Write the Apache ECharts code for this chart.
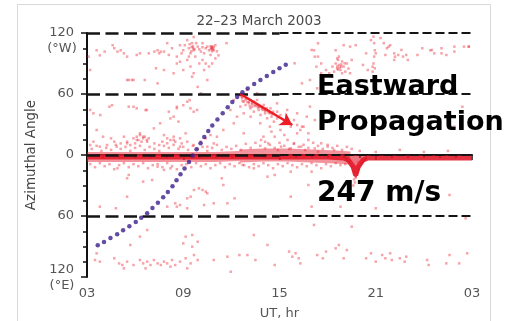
<!DOCTYPE html>
<html><head><meta charset="utf-8">
<script src="https://cdn.jsdelivr.net/npm/echarts@6/dist/echarts.min.js"></script>
<style>html,body{margin:0;padding:0;background:#fff}#c{width:508px;height:321px}</style>
</head><body><div id="c"></div>
<script>
// ---- data ----
const titleText = '22\u201323 March 2003';
const xTicks = [3, 9, 15, 21, 27];          // UT hours (27 = 03 next day)
const yTicks = [-120, -60, 0, 60, 120];     // azimuth, + = West, - = East
const refLevels = [120, 60, 0, -60];        // dashed reference lines

// dense echo band near 0 deg (hour, deg)
const bandHours = [3,4,5,6,7,8,9,10,11,12,13,14,15,16,17,18,19,19.3,19.6,19.75,19.9,20.2,20.5,21,22,23,24,25,26,27];
const bandDeg   = [-2,-2,-2,-2,-2,-2,-2,-2,-2,-2,-2,-2,-2,-2,-2,-2,-3,-5,-12,-20,-12,-5,-3,-3,-3,-3,-3,-3,-3,-3];
const fuzzLeftHours = [3,5,7,9,11,12.5];
const fuzzLeftDeg   = [-2,-2,-2,-2,-2,-1];
const fuzzMidHours = [12.5,14,15.5,17,18.5,19.4];
const fuzzMidDeg   = [-1,0,0,-1,-2,-3];
const dipHours = [19.1,19.45,19.75,20.05,20.45];
const dipDeg   = [-3,-9,-22,-9,-3];

// purple dotted track (hour, deg)
const trackHours = [3.67,4.06,4.46,4.88,5.25,5.64,6.04,6.38,6.75,7.08,7.42,7.75,8.04,8.33,8.58,8.83,9.08,9.36,9.59,9.83,10.08,10.31,10.56,10.81,11.13,11.46,11.77,12.06,12.36,12.69,13.02,13.42,13.81,14.21,14.61,15.0,15.39];
const trackDeg   = [-88.8,-85.6,-81.6,-78.0,-74.1,-70.1,-65.9,-61.7,-57.3,-52.1,-46.9,-41.6,-36.4,-30.8,-24.9,-19.0,-13.3,-6.9,-0.5,5.6,11.6,17.7,23.6,29.0,34.9,41.0,46.9,52.1,57.0,61.7,65.4,69.8,73.8,77.7,81.6,85.3,88.8];

// arrow of eastward propagation
const arrowStart = [12.56, 60];
const arrowEnd   = [15.8, 29.5];

// scattered echoes [hour, deg]
const echoTop = [
[3.1,96.8],[3.2,83.6],[3.6,103],[3.8,98],[4.1,101.7],[4.6,108],[4.7,105],[4.9,101.7],[5.1,103],[5.3,100],[5.5,96.8],[5.6,73.8],[5.8,73.8],
[6.1,98.4],[6.3,100],[6.6,73.8],[6.85,100],[7.2,101.7],[7.3,85.3],[7.4,103],[7.5,100],[7.6,101.7],[7.8,101.7],[8.0,110],[8.1,98.4],[8.3,105],
[8.4,80.4],[8.6,96.8],[8.8,108],[8.9,100],[9.0,103],[9.1,108],[9.25,113],[9.35,105],[9.45,100],[9.55,110],[9.65,116],[9.65,103],[9.75,96.8],
[9.9,106.6],[10.0,90],[10.1,101.7],[10.2,110],[10.3,100],[10.4,105],[10.5,106.6],[10.6,103],[10.7,98.4],[10.8,105],[10.9,103],[11.0,108],
[9.25,93.5],[9.45,87],[9.65,80.4],[9.55,77],[9.9,67],[10.1,60.7],[10.3,83.6],[10.5,73.8],[9.0,83.6],[8.8,91.8],[8.6,90],[9.35,96.8],[10.2,93.5],
[10.4,90],[10.6,87],[10.8,90],[7.4,70.5],[7.8,83.6],[10.75,106],[10.85,104],[10.7,107],[10.9,106],[10.8,102],[9.6,107],[9.7,104],[9.5,102],
[9.8,110],[9.4,109],[10.0,104],[10.2,106],[11.1,102],[11.2,98],[11.0,95],[10.78,105],[10.82,107],[10.72,104],[9.62,105],[9.52,106],
[11.7,110],[13.9,119.7],[17.15,103],[17.4,96.8],[17.6,90],[17.9,83.6],[18.1,80.4],[18.3,77],[18.6,87],[18.7,96.8],[18.5,103],[16.9,73.8],[17.35,65.6],
[17,103.3],[17.2,96.7],[17.3,86.9],[17.4,109.9],[18.65,93.5],[18.85,86.9],[19.06,90.2],[20.7,113],[20.8,86.9],[21.8,106.6],[22.2,96.7],[22.6,103.3],
[24.5,103.3],[25.1,100],[25.9,106.6],[26.8,106.6],[15.94,90.2],[16.4,70.5],[17.6,80.4],[18.0,60.7],
[19.0,108],[19.4,106.6],[19.75,108],[21.3,115],[21.5,110],[21.7,105],[21.9,108],[21.6,98.4],[22.15,100],[22.4,98.4],[22.7,96.8],[22.9,98.4],
[23.0,93.5],[23.6,98.4],[23.9,105],[24.4,103],[24.65,100],[25.1,105],[25.4,98.4],[25.9,101.7],[26.5,106.6],[26.8,106.6],[22.15,93.5],[20.4,100],
[20.2,88.6],[20.5,83.6],[18.5,90],[18.6,85],[18.7,88.6],[18.8,83.6],[18.9,92],[19.0,87],[19.1,82],[19.2,90],[19.3,85],[18.6,95],[18.9,80.4],
[18.4,82],[19.4,80.4],[19.5,93.5],[18.3,87],[18.75,86],[18.85,89],[18.65,84],[20.86,116.4],[20.9,110],[20.94,103],[20.9,96.8],[20.86,90],
[20.94,85.3],[20.8,82],[21.0,100]
];
const echoMid = [
[12.46,59],[12.67,57.4],[12.77,52.5],[12.98,55.8],[13.1,50.8],[13.2,54],[13.3,47.6],[13.4,52.5],[13.6,49],[13.7,44.3],[13.8,47.6],[14.0,44.3],
[14.1,41],[14.2,46],[14.4,41],[14.5,37.7],[14.6,42.6],[14.85,36],[15.06,39.4],[15.27,34.4],[15.48,31.2],[15.7,27.9],[15.9,34.4],[16.1,29.5],
[16.3,24.6],[16.5,27.9],[12.56,47.6],[12.77,41],[12.35,37.7],[12.15,31.2],[13.2,37.7],[13.8,31.2],[14.4,27.9],[15.06,24.6],[11.94,44.3],
[12.15,54],[12.98,64],[13.6,60.7],[14.85,50.8],[15.48,44.3],[16.1,41],[16.7,37.7],[16.9,47.6],[11.5,24.6],[11.1,18],[12.77,21.3],[14.0,18],
[12.67,55.8],[12.88,54.1],[13.09,52.5],[13.29,50.2],[13.5,48.2],[13.71,46.9],[13.92,44.9],[14.13,43.3],[14.34,41.7],[12.88,49.2],[13.19,45.9],
[13.4,42.6],[13.82,39.4],[14.23,36.1],[14.65,32.8],[13.6,54.1],[14.02,49.2],[14.44,45.9],[14.86,42.6],[12.6,58],[12.9,56],[13.0,52],[13.3,51],
[13.45,49],[13.65,47],[13.9,46],[14.1,44],[14.3,43],[14.55,40],[12.7,53],[13.15,48],
[4.56,49],[5.6,47.5],[6.1,45.9],[6.65,44.2],[3.83,39.3],[7.17,26.2],[8.1,42.6],[8.6,45.9],[9.0,49],[9.25,52.4],[9.45,45.9],[9.65,42.6],[8.2,36],
[8.7,32.8],[7.8,19.6],[8.0,16.4],[8.2,14.7],[8.4,18],[8.5,13.1],[8.8,16.4],[8.9,11.4],[9.15,21.3],[9.25,13.1],[5.9,16.4],[6.1,18],[6.2,14.7],
[6.3,19.6],[6.4,13.1],[6.5,16.4],[6.6,18],[6.75,13.1],[6.85,16.4],[6.0,11.4],[5.7,9.8],[5.5,13.1],[5.1,11.4],[4.7,13.1],[4.5,16.4],[4.25,9.8],
[3.6,24.6],[3.4,13.1],[3.2,9.8],[4.0,18],[5.3,18],[7.2,11.4],[7.5,9.8],[7.7,13.1],[9.65,9.8],[10.1,13.1],[10.4,16.4],[10.7,19.6],[10.5,8.2],
[10.9,11.4],[5.9,47.5],[6.73,44.3],[8.6,47.5],[9.4,54],[9.86,44.3],[8.4,37.7],[7.56,31.2],[6.3,21.3],[6.5,18],[6.73,14.8],[6.1,14.8],[5.5,11.5],
[4.85,8.2],[3.8,8.2],[8.0,11.5],[8.4,14.8],[8.8,8.2],[3.2,44.3],[5.5,73.8],[5.9,73.8],[3.4,41],[4.4,47.5],[16.4,27.9],[16.8,21.3],[26.4,47.5],
[25.9,27.9],[23.9,27.9],[17.2,34.4],[13.85,14.8],[14.3,11.5],[14.7,18],[15.1,8.2],[15.5,14.8],[15.9,11.5],[16.35,8.2],[16.8,14.8],[17.2,6.5],
[17.6,11.5],[18.0,8.2],[18.4,4.9],[14.1,6.5],[14.9,4.9],[15.7,6.5],[16.6,4.9],[17.4,3.3],[14.5,23],[15.3,19.7],[16.1,21.3]
];
const echoBand = [
[3.3,6],[3.6,9],[3.9,4],[4.2,7],[4.5,5],[4.8,10],[5.1,6],[5.4,8],[5.7,4],[6.0,7],[6.3,9],[6.6,5],[6.9,8],[7.2,6],[7.5,4],[7.8,9],[8.1,7],[8.4,10],
[8.7,6],[9.0,8],[9.3,5],[9.6,9],[9.9,6],[10.2,8],[10.5,4],[10.8,7],[11.1,10],[11.4,5],[11.7,8],[12.0,6],[12.3,9],[12.6,5],[12.9,11],[13.2,7],
[13.5,12],[13.8,9],[14.1,13],[14.4,10],[14.7,7],[15.0,12],[15.3,9],[15.6,6],[15.9,11],[16.2,8],[16.5,10],[16.8,7],[17.1,12],[17.4,9],[17.7,6],
[18.0,10],[18.3,7],[18.6,9],[18.9,5],[19.2,8],[19.5,6],[20.0,4],[21.0,3],[22.5,5],[24.0,3],[25.5,4],
[3.2,-9],[3.5,-12],[3.8,-8],[4.1,-11],[4.4,-9],[4.7,-14],[5.0,-10],[5.3,-8],[5.6,-12],[5.9,-9],[6.2,-11],[6.5,-8],[6.8,-13],[7.1,-10],[7.4,-9],
[7.7,-12],[8.0,-8],[8.3,-11],[8.6,-14],[8.9,-10],[9.2,-9],[9.5,-12],[9.8,-8],[10.1,-11],[10.4,-9],[10.7,-13],[11.0,-10],[11.3,-8],[11.6,-12],
[11.9,-9],[12.2,-11],[12.5,-8],[12.8,-10],[13.1,-12],[13.4,-9],[13.7,-11],[14.0,-8],[14.3,-10],[14.6,-13],[14.9,-9],[15.2,-11],[15.5,-8],
[15.8,-10],[16.1,-12],[16.4,-9],[16.7,-11],[17.0,-8],[17.3,-10],[17.6,-13],[17.9,-9],[18.2,-11],[18.5,-8],[18.8,-10],[19.1,-9],
[19.3,-5],[19.4,-8],[19.5,-10],[19.55,-13],[19.6,-15],[19.65,-18],[19.7,-20],[19.75,-22],[19.8,-19],[19.85,-16],[19.9,-13],[19.95,-10],[20.0,-8],
[20.1,-6],[19.6,-9],[19.7,-12],[19.8,-11],[19.5,-7],[19.9,-7],[19.75,-15],[19.65,-24],[19.7,-27],[19.6,-30]
];
const echoLow = [
[4.9,-13.1],[5.5,-22.9],[5.6,-19.6],[7.4,-11.4],[7.8,-14.7],[8.2,-13.1],[5.5,-41],[6.5,-26.2],[7.06,-24.6],[9.67,-34.4],[9.98,-32.8],[10.2,-34.4],
[10.4,-36],[10.5,-37.7],[9.25,-42.6],[9.46,-41],[8.5,-47.5],[8.8,-49.2],[8.0,-50.8],[8.6,-50.8],[9.25,-52.4],[10.3,-49.2],[10.9,-47.5],[11.4,-22.9],
[11.5,-29.5],[11.75,-47.5],[12.2,-42.6],[14.25,-21.3],[14.7,-19.6],[13.4,-13.1],[12.7,-9.8],[3.8,-50.8],[4.8,-52.4],[6.75,-73.8],[6.3,-80.3],
[5.7,-88.5],[9.15,-80.3],[9.56,-78.7],[9.0,-86.9],[9.56,-90.2],[3.6,-96.7],[3.5,-103.3],[3.8,-104.9],[9.9,-85.3],[13.4,-78.7],[12.5,-98.4],
[13.0,-98.4],[11.75,-100],[10.9,-103.3],[11.96,-114.8],[13.5,-103.3],[14.25,-88.5],[14.7,-108.2],
[4.7,-101.6],[5.0,-106.6],[5.2,-108.2],[5.5,-104.9],[5.9,-108.2],[6.3,-103.3],[6.5,-106.6],[6.75,-104.9],[6.96,-108.2],[7.17,-103.3],[7.4,-106.6],
[7.6,-108.2],[7.8,-104.9],[8.0,-106.6],[8.3,-103.3],[8.5,-108.2],[8.8,-104.9],[9.15,-101.6],[9.46,-106.6],[9.67,-98.4],[9.9,-103.3],[9.25,-111.5],
[6.65,-111.5],[5.3,-111.5],[8.2,-109.8],
[15.7,-41],[17.15,-68.8],[17.0,-50.8],[21.0,-52.4],[19.5,-70.5],[25.6,-39.3],[26.6,-62.3],[15.6,-95],[15.8,-100],[16.0,-96.7],[16.3,-106.6],
[16.2,-101.6],[17.35,-98.4],[17.7,-101.6],[17.9,-95],[18.5,-91.8],[18.7,-88.5],[19.2,-93.5],[19.0,-101.6],[20.4,-101.6],[20.7,-96.7],[21.0,-104.9],
[21.4,-98.4],[21.6,-101.6],[21.9,-96.7],[22.0,-103.3],[22.5,-101.6],[22.8,-104.9],[22.9,-100],[24.2,-103.3],[24.3,-108.2],[25.4,-106.6],
[25.6,-98.4],[26.2,-106.6],[26.7,-96.7],[18.8,-50.8],[17.0,-16.4],[15.7,-16.4],[16.8,-29.5],[19.75,-19.6]
];

const labelW = '(\u00b0W)';
const labelE = '(\u00b0E)';

// ---- chart ----
const chart = echarts.init(document.getElementById('c'), null, {renderer: 'canvas'});
const pad2 = v => { const h = ((v % 24) + 24) % 24; return (h < 10 ? '0' : '') + h; };
const allEchoes = echoTop.concat(echoMid, echoBand, echoLow);
const dashLines = [];
refLevels.forEach(l => {
  dashLines.push([{coord: [xTicks[0], l], lineStyle: {type: [13, 5.5], width: 2.6, color: '#151515'}}, {coord: [xTicks[2], l]}]);
  dashLines.push([{coord: [xTicks[2], l], lineStyle: {type: [9, 4], width: 2.2, color: '#151515'}}, {coord: [xTicks[4], l]}]);
});
const font = 'DejaVu Sans';
const pair = (hs, ds) => hs.map((h, i) => [h, ds[i]]);

chart.setOption({
  animation: false,
  backgroundColor: '#fff',
  title: {text: titleText, left: 254, top: 9, textAlign: 'center',
    textStyle: {fontFamily: font, fontSize: 13.5, fontWeight: 'normal', color: '#4a4a4a'}},
  grid: {left: 87, right: 36, top: 33, bottom: 44, containLabel: false, outerBoundsMode: 'none'},
  xAxis: {
    type: 'value', min: xTicks[0], max: xTicks[4], interval: 6,
    name: 'UT, hr', nameLocation: 'middle', nameGap: 30,
    nameTextStyle: {fontFamily: font, fontSize: 13, color: '#555'},
    axisLine: {show: true, lineStyle: {color: '#111', width: 2}},
    axisTick: {show: true, length: 5, lineStyle: {color: '#111', width: 1.5}},
    minorTick: {show: true, splitNumber: 6, length: 3, lineStyle: {color: '#111', width: 1.5}},
    splitLine: {show: false},
    axisLabel: {formatter: v => pad2(v), fontFamily: font, fontSize: 13, color: '#555', margin: 10}
  },
  yAxis: {
    type: 'value', min: yTicks[0], max: yTicks[4], interval: 60,
    name: 'Azimuthal Angle', nameLocation: 'middle', nameGap: 41, nameRotate: 90,
    nameTextStyle: {fontFamily: font, fontSize: 13.5, color: '#444'},
    axisLine: {show: true, lineStyle: {color: '#111', width: 2}},
    axisTick: {show: true, length: 6, lineStyle: {color: '#111', width: 1.5}},
    minorTick: {show: true, splitNumber: 4, length: 4, lineStyle: {color: '#111', width: 1.5}},
    splitLine: {show: false},
    axisLabel: {
      fontFamily: font, fontSize: 13, color: '#555', margin: 13,
      formatter: v => v === yTicks[0] ? '{e|' + Math.abs(v) + '}' : String(Math.abs(v)),
      rich: {e: {fontFamily: font, fontSize: 13, color: '#555', padding: [0, 0, 14, 0]}}
    }
  },
  graphic: [
    {type: 'rect', shape: {x: 17.5, y: 4.5, width: 473, height: 340}, style: {fill: 'none', stroke: '#d9d9d9', lineWidth: 1}, z: -10, silent: true},
    {type: 'text', x: 62, y: 49, style: {text: labelW, font: '13px "DejaVu Sans"', fill: '#555', textAlign: 'center', textVerticalAlign: 'middle'}},
    {type: 'text', x: 62, y: 286, style: {text: labelE, font: '13px "DejaVu Sans"', fill: '#555', textAlign: 'center', textVerticalAlign: 'middle'}},
    {type: 'text', x: 317, y: 87, z: 100, style: {text: 'Eastward', font: 'bold 27px "DejaVu Sans"', fill: '#000', textAlign: 'left', textVerticalAlign: 'middle'}},
    {type: 'text', x: 317, y: 123, z: 100, style: {text: 'Propagation', font: 'bold 27px "DejaVu Sans"', fill: '#000', textAlign: 'left', textVerticalAlign: 'middle'}},
    {type: 'text', x: 317, y: 194, z: 100, style: {text: '247 m/s', font: 'bold 28px "DejaVu Sans"', fill: '#000', textAlign: 'left', textVerticalAlign: 'middle'}}
  ],
  series: [
    {type: 'line', z: 1, silent: true, symbol: 'none', data: pair(fuzzLeftHours, fuzzLeftDeg),
      lineStyle: {width: 10, color: 'rgba(232,40,55,0.5)'}},
    {type: 'line', z: 1, silent: true, symbol: 'none', data: pair(fuzzMidHours, fuzzMidDeg),
      lineStyle: {width: 13, color: 'rgba(232,40,55,0.5)'}},
    {type: 'line', z: 2, silent: true, symbol: 'none', data: pair(bandHours, bandDeg),
      lineStyle: {width: 5, color: 'rgba(225,22,40,0.88)'}},
    {type: 'line', z: 2, silent: true, symbol: 'none', data: pair(dipHours, dipDeg),
      lineStyle: {width: 1.5, color: 'rgba(225,22,40,0.9)'},
      areaStyle: {origin: 0, color: 'rgba(225,22,40,0.85)'}},
    {type: 'scatter', z: 3, silent: true, symbol: 'rect', symbolSize: 2.5,
      data: allEchoes, itemStyle: {color: 'rgba(235,45,60,0.55)'}},
    {type: 'scatter', z: 5, silent: true, symbolSize: 4.5,
      data: pair(trackHours, trackDeg),
      itemStyle: {color: '#3c1f8c'},
      markLine: {
        silent: true, symbol: ['none', 'none'], label: {show: false}, animation: false,
        data: dashLines.concat([[{coord: arrowStart, lineStyle: {type: 'solid', width: 2.5, color: '#ee1c25'}, symbol: 'none'},
                    {coord: arrowEnd, symbol: 'arrow', symbolSize: [11, 12]}]])
      }
    }
  ]
});
</script></body></html>
